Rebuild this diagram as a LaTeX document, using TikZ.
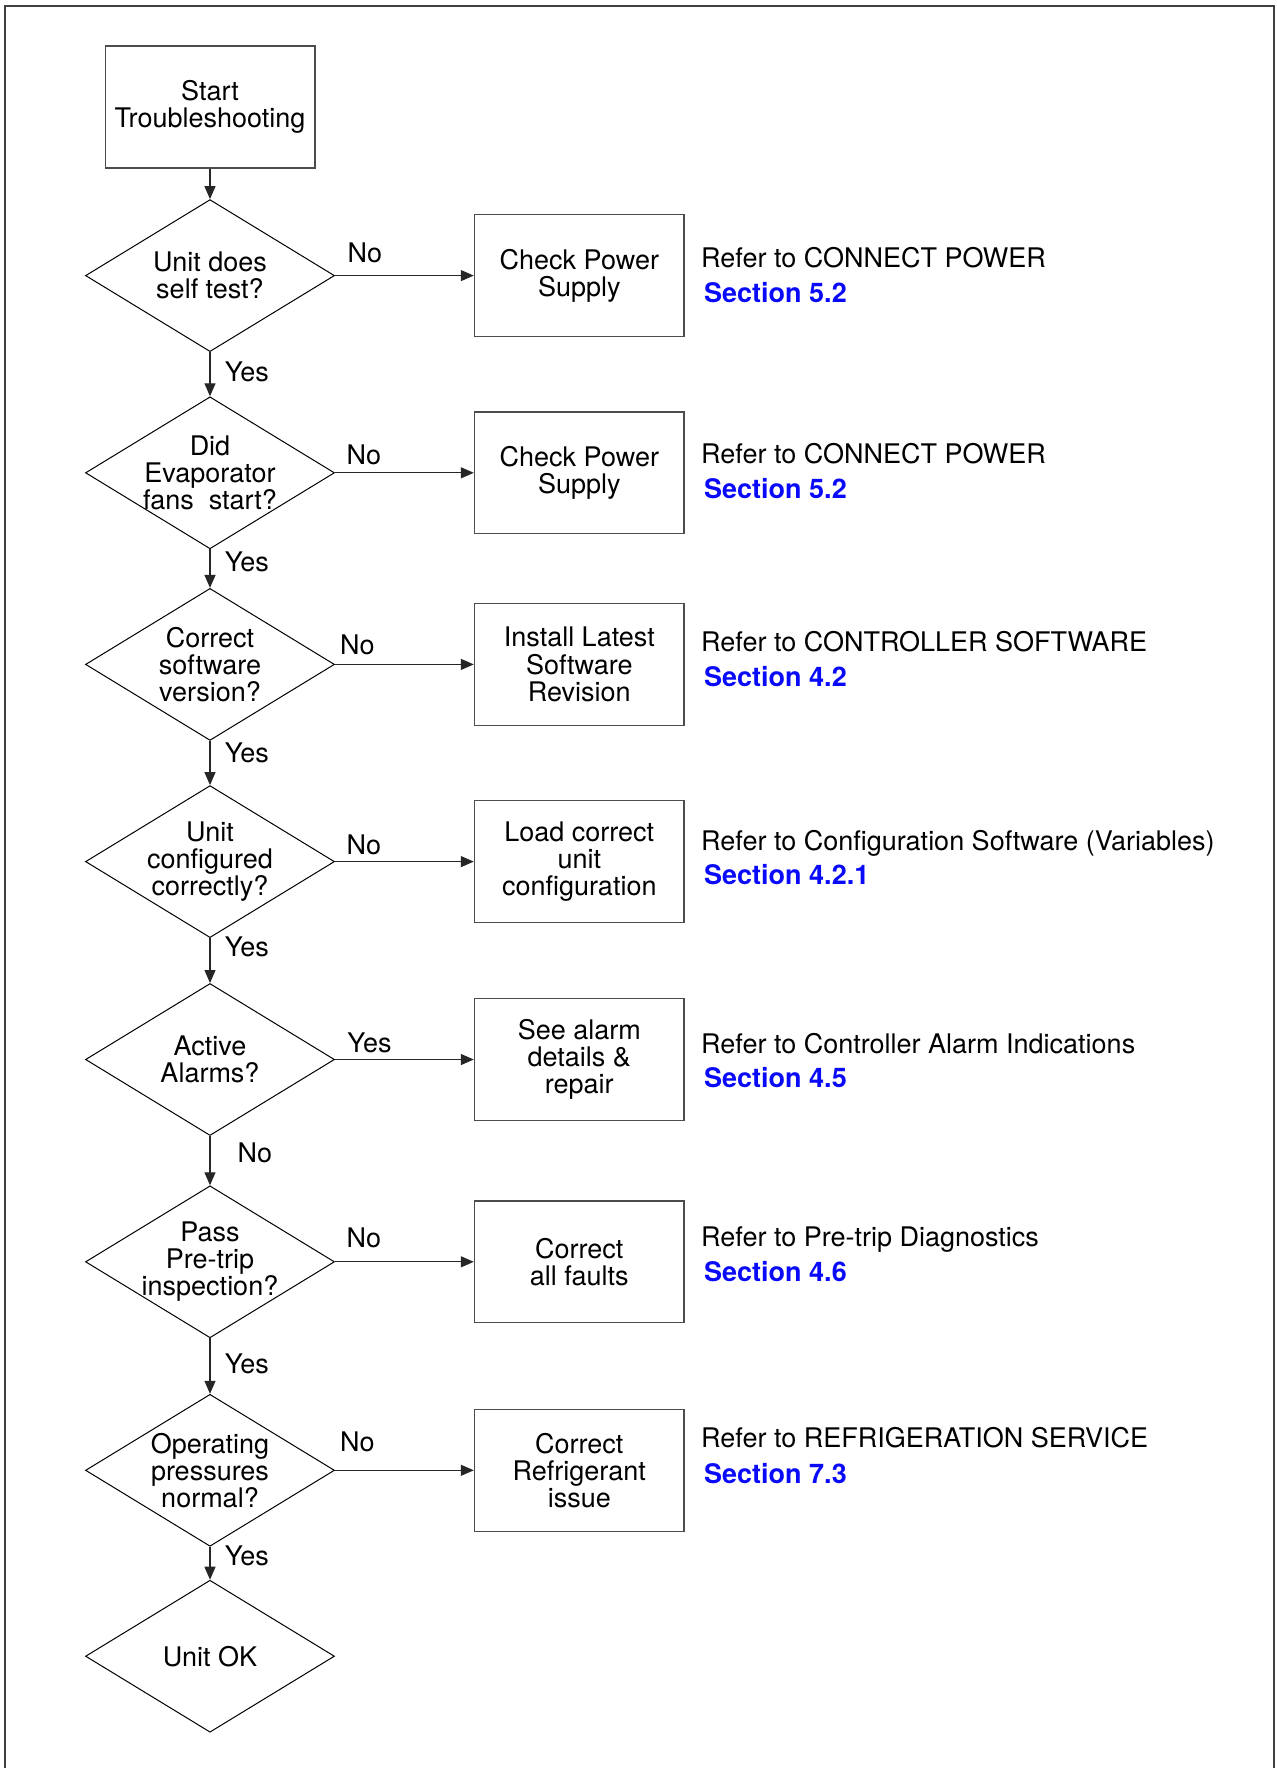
\documentclass[tikz,border=0pt]{standalone}
\usepackage{fontspec}
\setmainfont{TeX Gyre Heros}
\usepackage{tikz}
\usetikzlibrary{shapes.geometric, arrows.meta, positioning}
\usepackage{xcolor}
\definecolor{secao}{RGB}{10,10,250}

\tikzset{
  caixa/.style={draw=black!70, line width=0.7pt, minimum width=104.8pt, minimum height=60.9pt, align=center, inner sep=2pt},
  decisao/.style={diamond, draw=black, line width=0.5pt, minimum width=124.5pt, minimum height=76pt, inner sep=-10pt, align=center},
  seta/.style={draw=black!85, line width=0.6pt, -{Triangle[length=6.5pt,width=5.5pt]}},
  rotuloh/.style={anchor=south west, inner sep=0pt, pos=0},
  rotulov/.style={anchor=west, inner sep=0pt, xshift=7.1pt},
  refer/.style={align=left, inner sep=0pt, anchor=west},
}

\begin{document}
\begin{tikzpicture}[x=0.5pt, y=-0.5pt, font=\fontsize{13.5}{13.6}\selectfont]
        \useasboundingbox (0,0) rectangle (1277,1768);
        % Moldura
        \draw[black!75, line width=1.2pt] (5,1768) -- (5,6) -- (1274,6) -- (1274,1768);

        % Inicio
        \node[caixa] (ini) at (210,107) {Start\\Troubleshooting};

        % Decisoes
        \node[decisao] (d1) at (210,275.6) {Unit does\\self test?};
        \node[decisao] (d2) at (210,472.8) {Did\\Evaporator\\fans\ \ start?};
        \node[decisao] (d3) at (210,664.4) {Correct\\software\\version?};
        \node[decisao] (d4) at (210,861.6) {Unit\\configured\\correctly?};
        \node[decisao] (d5) at (210,1059.5) {Active\\Alarms?};
        \node[decisao] (d6) at (210,1261.8) {Pass\\Pre-trip\\inspection?};
        \node[decisao] (d7) at (210,1470.3) {Operating\\pressures\\normal?};
        \node[decisao] (d8) at (210,1656.2) {Unit OK};

        % Acoes
        \node[caixa] (b1) at (579.3,275.6) {Check Power\\Supply};
        \node[caixa] (b2) at (579.3,472.8) {Check Power\\Supply};
        \node[caixa] (b3) at (579.3,664.4) {Install Latest\\Software\\Revision};
        \node[caixa] (b4) at (579.3,861.6) {Load correct\\unit\\configuration};
        \node[caixa] (b5) at (579.3,1059.5) {See alarm\\details \&\\repair};
        \node[caixa] (b6) at (579.3,1261.8) {Correct\\all faults};
        \node[caixa] (b7) at (579.3,1470.3) {Correct\\Refrigerant\\issue};

        % Referencias
        \node[refer, right=8pt of b1, yshift=0.3pt] (r1) {Refer to CONNECT POWER\\[4pt]\hspace*{1.5pt}\textcolor{secao}{\bfseries Section 5.2}};
        \node[refer, right=8pt of b2, yshift=0.85pt] (r2) {Refer to CONNECT POWER\\[4pt]\hspace*{1.5pt}\textcolor{secao}{\bfseries Section 5.2}};
        \node[refer, right=8pt of b3, yshift=2.5pt] (r3) {Refer to CONTROLLER SOFTWARE\\[4pt]\hspace*{1.5pt}\textcolor{secao}{\bfseries Section 4.2}};
        \node[refer, right=8pt of b4, yshift=2pt] (r4) {Refer to Configuration Software (Variables)\\[3pt]\hspace*{1.5pt}\textcolor{secao}{\bfseries Section 4.2.1}};
        \node[refer, right=8pt of b5, yshift=-0.55pt] (r5) {Refer to Controller Alarm Indications\\[3.5pt]\hspace*{1.5pt}\textcolor{secao}{\bfseries Section 4.5}};
        \node[refer, right=8pt of b6, yshift=3.65pt] (r6) {Refer to Pre-trip Diagnostics\\[4pt]\hspace*{1.5pt}\textcolor{secao}{\bfseries Section 4.6}};
        \node[refer, right=8pt of b7, yshift=7.3pt] (r7) {Refer to REFRIGERATION SERVICE\\[4.5pt]\hspace*{1.5pt}\textcolor{secao}{\bfseries Section 7.3}};

        % Setas verticais
        \draw[seta] (ini) -- (d1);
        \draw[seta] (d1) -- node[rotulov, pos=0.45] {Yes} (d2);
        \draw[seta] (d2) -- node[rotulov, pos=0.32] {Yes} (d3);
        \draw[seta] (d3) -- node[rotulov, pos=0.28] {Yes} (d4);
        \draw[seta] (d4) -- node[rotulov, pos=0.20] {Yes} (d5);
        \draw[seta] (d5) -- node[rotulov, pos=0.35, xshift=6.4pt] {No} (d6);
        \draw[seta] (d6) -- node[rotulov, pos=0.46] {Yes} (d7);
        \draw[seta] (d7) -- node[rotulov, pos=0.27] {Yes} (d8);

        % Setas horizontais
        \draw[seta] (d1) -- node[rotuloh, xshift=6pt, yshift=5.95pt] {No} (b1);
        \draw[seta] (d2) -- node[rotuloh, xshift=5.5pt, yshift=3.75pt] {No} (b2);
        \draw[seta] (d3) -- node[rotuloh, xshift=2.25pt, yshift=4.25pt] {No} (b3);
        \draw[seta] (d4) -- node[rotuloh, xshift=5.5pt, yshift=3.15pt] {No} (b4);
        \draw[seta] (d5) -- node[rotuloh, xshift=5.9pt, yshift=3.15pt] {Yes} (b5);
        \draw[seta] (d6) -- node[rotuloh, xshift=5.5pt, yshift=6.5pt] {No} (b6);
        \draw[seta] (d7) -- node[rotuloh, xshift=2.25pt, yshift=8.75pt] {No} (b7);
    \end{tikzpicture}
\end{document}
